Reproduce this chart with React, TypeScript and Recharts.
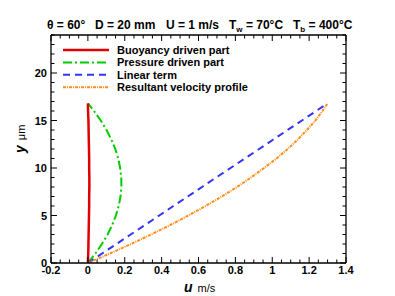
import { LineChart, Line, XAxis, YAxis } from "recharts";

// sampled heights across the film (µm)
const yHeights = [0, 1, 2, 3, 4, 5, 6, 7, 8, 9, 10, 11, 12, 13, 14, 15, 16, 16.8];

const buoyancyU = [0, 0.002, 0.003, 0.004, 0.005, 0.006, 0.007, 0.007, 0.008, 0.008, 0.007, 0.007, 0.006, 0.005, 0.004, 0.003, 0.001, 0];
const pressureU = [0, 0.041, 0.076, 0.107, 0.132, 0.152, 0.167, 0.177, 0.182, 0.181, 0.175, 0.165, 0.149, 0.127, 0.101, 0.07, 0.033, 0];
const linearU = [0, 0.077, 0.155, 0.232, 0.31, 0.387, 0.464, 0.542, 0.619, 0.696, 0.774, 0.851, 0.929, 1.006, 1.083, 1.161, 1.238, 1.3];
const resultantU = [0, 0.12, 0.234, 0.343, 0.447, 0.545, 0.638, 0.726, 0.809, 0.885, 0.956, 1.023, 1.084, 1.138, 1.188, 1.234, 1.272, 1.3];

const xMajor = [-0.2, 0, 0.2, 0.4, 0.6, 0.8, 1, 1.2, 1.4];
const yMajor = [0, 5, 10, 15, 20];

const legendItems = [
  { name: "Buoyancy driven part", color: "#e00000", dash: undefined, width: 2.5 },
  { name: "Pressure driven part", color: "#00cc00", dash: "9 3 2 3", width: 2 },
  { name: "Linear term", color: "#3333ff", dash: "7 5", width: 2 },
  { name: "Resultant velocity profile", color: "#ff8c1a", dash: "3 1 1 1", width: 2 },
];

const toPts = (us: number[]) => us.map((u, i) => ({ u, y: yHeights[i] }));

const xMinor: number[] = [];
for (let i = 0; i <= 32; i++) xMinor.push(Math.round((-0.2 + i * 0.05) * 100) / 100);
const yMinor: number[] = [];
for (let i = 0; i <= 24; i++) yMinor.push(i);

const font = "Arial, 'Liberation Sans', sans-serif";

const isMajor = (v: number, majors: number[]) => majors.some((m) => Math.abs(m - v) < 1e-6);

function BottomTick(props: any) {
  const { x, y, payload } = props;
  const major = isMajor(payload.value, xMajor);
  return (
    <g>
      <line x1={x} x2={x} y1={y} y2={y - (major ? 6 : 3.5)} stroke="#000" />
      {major && (
        <text x={x} y={y + 11} textAnchor="middle" fontSize={11} fontWeight="bold" fontFamily={font} fill="#000">
          {payload.value}
        </text>
      )}
    </g>
  );
}

function TopTick(props: any) {
  const { x, y, payload } = props;
  const major = isMajor(payload.value, xMajor);
  return <line x1={x} x2={x} y1={y} y2={y + (major ? 6 : 3.5)} stroke="#000" />;
}

function LeftTick(props: any) {
  const { x, y, payload } = props;
  const major = isMajor(payload.value, yMajor);
  return (
    <g>
      <line x1={x} x2={x + (major ? 6 : 3.5)} y1={y} y2={y} stroke="#000" />
      {major && (
        <text x={x - 4} y={y + 4} textAnchor="end" fontSize={11} fontWeight="bold" fontFamily={font} fill="#000">
          {payload.value}
        </text>
      )}
    </g>
  );
}

function RightTick(props: any) {
  const { x, y, payload } = props;
  const major = isMajor(payload.value, yMajor);
  return <line x1={x} x2={x - (major ? 6 : 3.5)} y1={y} y2={y} stroke="#000" />;
}

export default function App() {
  return (
    <div style={{ position: "absolute", left: 0, top: 0, width: 395, height: 296, background: "#fff" }}>
      <LineChart width={395} height={296} margin={{ top: 0, right: 0, bottom: 0, left: 0 }}>
        <XAxis
          xAxisId="b"
          type="number"
          dataKey="u"
          orientation="bottom"
          domain={[-0.2, 1.4]}
          ticks={xMinor}
          interval={0}
          height={33}
          tickSize={0}
          tickMargin={0}
          tick={<BottomTick />}
          axisLine={{ stroke: "#000", strokeWidth: 1.3 }}
          allowDataOverflow
        />
        <XAxis
          xAxisId="t"
          type="number"
          dataKey="u"
          orientation="top"
          domain={[-0.2, 1.4]}
          ticks={xMinor}
          interval={0}
          height={35}
          tickSize={0}
          tickMargin={0}
          tick={<TopTick />}
          axisLine={{ stroke: "#000", strokeWidth: 1.3 }}
          allowDataOverflow
        />
        <YAxis
          yAxisId="l"
          type="number"
          orientation="left"
          domain={[0, 24]}
          ticks={yMinor}
          interval={0}
          width={51}
          tickSize={0}
          tickMargin={0}
          tick={<LeftTick />}
          axisLine={{ stroke: "#000", strokeWidth: 1.3 }}
          allowDataOverflow
        />
        <YAxis
          yAxisId="r"
          type="number"
          orientation="right"
          domain={[0, 24]}
          ticks={yMinor}
          interval={0}
          width={49}
          tickSize={0}
          tickMargin={0}
          tick={<RightTick />}
          axisLine={{ stroke: "#000", strokeWidth: 1.3 }}
          allowDataOverflow
        />
        <Line xAxisId="b" yAxisId="l" data={toPts(pressureU)} dataKey="y" type="linear" stroke="#00cc00" strokeWidth={2} strokeDasharray="9 3 2 3" dot={false} isAnimationActive={false} />
        <Line xAxisId="b" yAxisId="l" data={toPts(linearU)} dataKey="y" type="linear" stroke="#3333ff" strokeWidth={2} strokeDasharray="7 5" dot={false} isAnimationActive={false} />
        <Line xAxisId="b" yAxisId="l" data={toPts(resultantU)} dataKey="y" type="linear" stroke="#ff8c1a" strokeWidth={2} strokeDasharray="3 1 1 1" dot={false} isAnimationActive={false} />
        <Line xAxisId="b" yAxisId="l" data={toPts(buoyancyU)} dataKey="y" type="linear" stroke="#e00000" strokeWidth={2.5} dot={false} isAnimationActive={false} />
      </LineChart>
      <svg width={395} height={296} style={{ position: "absolute", left: 0, top: 0, pointerEvents: "none" }} fontFamily={font}>
        <g fontSize={12} fontWeight="bold" fill="#000">
          <text x={47} y={29}>θ = 60°</text>
          <text x={95} y={29}>D = 20 mm</text>
          <text x={166} y={29}>U = 1 m/s</text>
          <text x={229} y={29}>
            T<tspan fontSize={8} dy={3}>w</tspan>
            <tspan dy={-3}> = 70°C</tspan>
          </text>
          <text x={293} y={29}>
            T<tspan fontSize={8} dy={3}>b</tspan>
            <tspan dy={-3}> = 400°C</tspan>
          </text>
        </g>
        {legendItems.map((it, i) => (
          <g key={it.name}>
            <line x1={63} x2={109} y1={50 + i * 12.4} y2={50 + i * 12.4} stroke={it.color} strokeWidth={it.width} strokeDasharray={it.dash} />
            <text x={117} y={54 + i * 12.4} fontSize={11} fontWeight="bold" fill="#000">
              {it.name}
            </text>
          </g>
        ))}
        <text x={184} y={292} fill="#000">
          <tspan fontSize={14} fontWeight="bold" fontStyle="italic">u</tspan>
          <tspan fontSize={11} dx={5}>m/s</tspan>
        </text>
        <text transform="translate(25,153) rotate(-90)" fill="#000">
          <tspan fontSize={14} fontWeight="bold" fontStyle="italic">y</tspan>
          <tspan fontSize={11} dx={5}>μm</tspan>
        </text>
      </svg>
    </div>
  );
}
